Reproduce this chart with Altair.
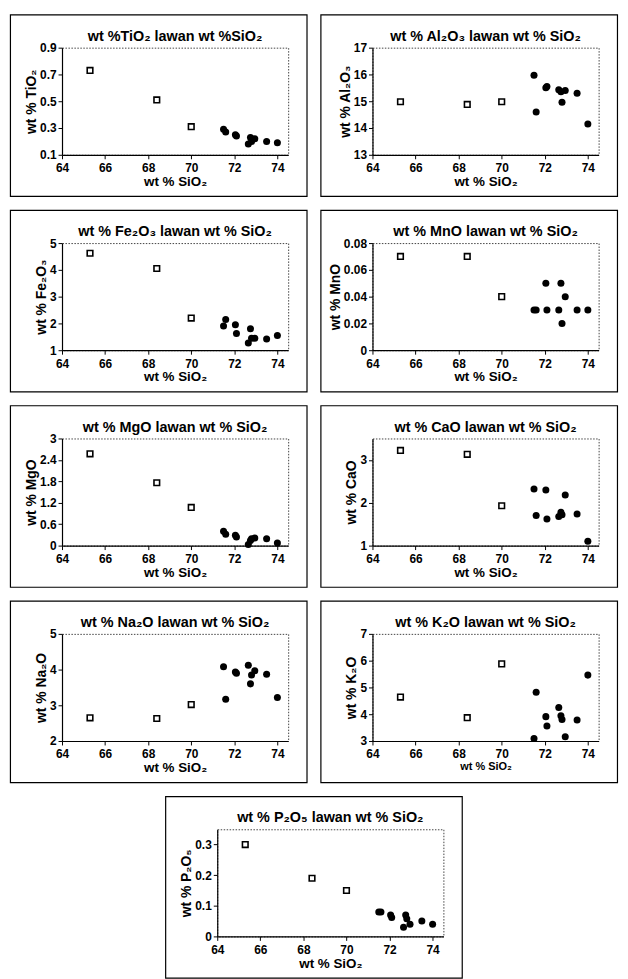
import altair as alt
import pandas as pd

# ---------------- data ----------------
SIO2_OTHER = [65.3, 68.4, 70.0]            # open squares
SIO2_GRANITE = [71.5, 71.6, 72.05, 72.1, 72.65, 72.75, 72.8, 72.95, 73.5, 74.0]  # filled circles

TIO2_OTHER = [0.73, 0.51, 0.31]
TIO2_GRANITE = [0.29, 0.27, 0.25, 0.24, 0.18, 0.23, 0.20, 0.22, 0.20, 0.19]

AL2O3_OTHER = [14.98, 14.88, 14.98]
AL2O3_GRANITE = [15.97, 14.6, 15.5, 15.55, 15.43, 15.35, 14.96, 15.4, 15.3, 14.15]

FE2O3_OTHER = [4.62, 4.05, 2.2]
FE2O3_GRANITE = [1.9, 2.15, 1.95, 1.62, 1.27, 1.8, 1.45, 1.45, 1.42, 1.55]

MNO_OTHER = [0.07, 0.07, 0.04]
MNO_GRANITE = [0.03, 0.03, 0.05, 0.03, 0.03, 0.05, 0.02, 0.04, 0.03, 0.03]

MGO_OTHER = [2.57, 1.76, 1.07]
MGO_GRANITE = [0.4, 0.32, 0.29, 0.24, 0.03, 0.14, 0.19, 0.21, 0.19, 0.07]

CAO_OTHER = [3.22, 3.13, 1.93]
CAO_GRANITE = [2.32, 1.7, 2.3, 1.62, 1.68, 1.78, 1.72, 2.18, 1.74, 1.1]

NA2O_OTHER = [2.65, 2.63, 3.02]
NA2O_GRANITE = [4.08, 3.17, 3.93, 3.9, 4.12, 3.6, 3.85, 3.97, 3.87, 3.22]

K2O_OTHER = [4.64, 3.87, 5.88]
K2O_GRANITE = [3.09, 4.82, 3.91, 3.56, 4.25, 3.94, 3.8, 3.16, 3.78, 5.46]

P2O5_OTHER = [0.30, 0.19, 0.15]
P2O5_GRANITE = [0.08, 0.08, 0.07, 0.062, 0.03, 0.07, 0.058, 0.04, 0.05, 0.04]

X_TICKS = [64, 66, 68, 70, 72, 74]
X_DOMAIN = [64, 74.5]
X_TITLE = "wt % SiO₂"

PANELS = [
    ("wt %TiO₂ lawan wt %SiO₂", "wt % TiO₂", TIO2_OTHER, TIO2_GRANITE, [0.1, 0.9], [0.1, 0.3, 0.5, 0.7, 0.9], 13.5),
    ("wt % Al₂O₃ lawan wt % SiO₂", "wt % Al₂O₃", AL2O3_OTHER, AL2O3_GRANITE, [13, 17], [13, 14, 15, 16, 17], 13.5),
    ("wt % Fe₂O₃ lawan wt % SiO₂", "wt % Fe₂O₃", FE2O3_OTHER, FE2O3_GRANITE, [1, 5], [1, 2, 3, 4, 5], 13.5),
    ("wt % MnO lawan wt % SiO₂", "wt % MnO", MNO_OTHER, MNO_GRANITE, [0, 0.08], [0, 0.02, 0.04, 0.06, 0.08], 13.5),
    ("wt % MgO lawan wt % SiO₂", "wt % MgO", MGO_OTHER, MGO_GRANITE, [0, 3], [0, 0.6, 1.2, 1.8, 2.4, 3], 13.5),
    ("wt % CaO lawan wt % SiO₂", "wt % CaO", CAO_OTHER, CAO_GRANITE, [1, 3.5], [1, 2, 3], 13.5),
    ("wt % Na₂O lawan wt % SiO₂", "wt % Na₂O", NA2O_OTHER, NA2O_GRANITE, [2, 5], [2, 3, 4, 5], 13.5),
    ("wt % K₂O lawan wt % SiO₂", "wt % K₂O", K2O_OTHER, K2O_GRANITE, [3, 7], [3, 4, 5, 6, 7], 11),
    ("wt % P₂O₅ lawan wt % SiO₂", "wt % P₂O₅", P2O5_OTHER, P2O5_GRANITE, [0, 0.35], [0, 0.1, 0.2, 0.3], 13.5),
]

FONT = "Liberation Sans"
W, H = 228, 108
FL, FR, FT, FB = 52, 19, 33, 42  # frame offsets around the plot area


def panel(title, ytitle, y_other, y_granite, ydom, yticks, xt_size):
    d_o = pd.DataFrame({"SiO2": SIO2_OTHER, "v": y_other})
    d_g = pd.DataFrame({"SiO2": SIO2_GRANITE, "v": y_granite})
    x = alt.X("SiO2:Q",
              scale=alt.Scale(domain=X_DOMAIN, nice=False, zero=False),
              axis=alt.Axis(values=X_TICKS, title=X_TITLE, titleFontSize=xt_size))
    y = alt.Y("v:Q",
              scale=alt.Scale(domain=ydom, nice=False, zero=False),
              axis=alt.Axis(values=yticks, title=ytitle, format="~g"))
    sq = alt.Chart(d_o).mark_square(size=32, fill="white", stroke="black",
                                    strokeWidth=1.6, opacity=1).encode(x=x, y=y)
    ci = alt.Chart(d_g).mark_circle(size=50, color="black", opacity=1).encode(x=x, y=y)
    one = alt.Data(values=[{"k": 0}])
    frame = alt.Chart(one).mark_rect(fill="white", fillOpacity=0, stroke="black",
                                     strokeWidth=1.2).encode(
        x=alt.value(-FL), x2=alt.value(W + FR), y=alt.value(-FT), y2=alt.value(H + FB))
    ttl = alt.Chart(one).mark_text(font=FONT, fontSize=14.5, fontWeight="bold",
                                   align="center", baseline="middle", color="black").encode(
        x=alt.value(W / 2), y=alt.value(-11), text=alt.value(title))
    return alt.layer(frame, sq, ci, ttl).properties(width=W, height=H)


charts = [panel(*p) for p in PANELS]
rows = [alt.hconcat(charts[i], charts[i + 1], spacing=10) for i in range(0, 8, 2)]

chart = alt.vconcat(*rows, charts[8], spacing=10, center=True).properties(
    padding=1
).configure_view(
    stroke="#444", strokeDash=[1.5, 1.5], strokeWidth=1
).configure_axis(
    labelFont=FONT, titleFont=FONT, labelFontWeight="bold", titleFontWeight="bold",
    labelFontSize=12, titleFontSize=14, labelColor="black", titleColor="black",
    domainColor="black", tickColor="black", tickSize=4, grid=False,
    labelFlush=False, labelOverlap=False, titlePadding=1, labelPadding=2, domainWidth=1.2
).configure_axisX(labelPadding=4, titlePadding=1)

chart.save("out.html", embed_options={"renderer": "svg", "actions": False})
